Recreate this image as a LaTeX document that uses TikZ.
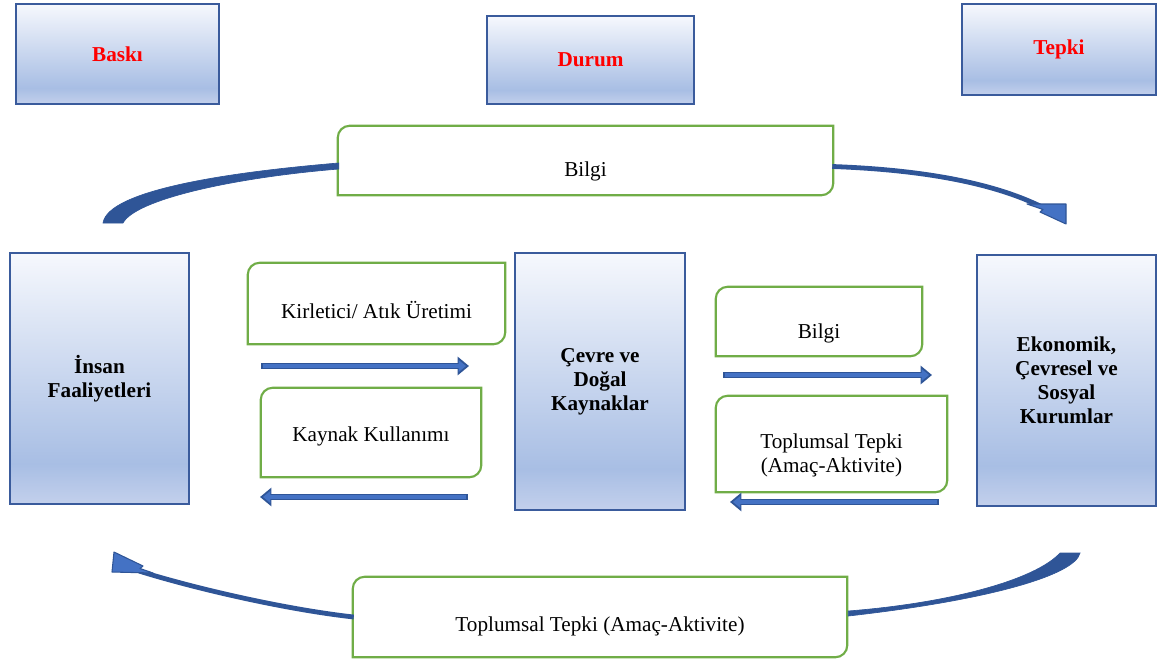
\documentclass[tikz,border=0pt]{standalone}
\usepackage{fontspec}
\setmainfont{Liberation Serif}
\usetikzlibrary{arrows.meta,calc}
\definecolor{bdark}{HTML}{2F5597}
\definecolor{blight}{HTML}{4472C4}
\definecolor{gline}{HTML}{70AD47}
\definecolor{bordb}{HTML}{3A5B9C}
\definecolor{shT}{HTML}{F6F8FD}
\definecolor{shM}{HTML}{A8BEE4}
\definecolor{shB}{HTML}{C3D0EC}
\definecolor{redtxt}{HTML}{FF0000}
\pgfdeclareverticalshading{boxshade}{100bp}{color(0bp)=(shB); color(25bp)=(shB); color(33bp)=(shM); color(75bp)=(shT); color(100bp)=(shT)}
\newcommand\lowr[2]{\raisebox{-#1}[\height][\depth]{#2}}
\newcommand\gframe[1]{\draw[gframe] (#1.south west) [rounded corners=9pt] -- (#1.north west) [sharp corners] -- (#1.north east) [rounded corners=9pt] -- (#1.south east) [sharp corners] -- cycle;}
\begin{document}
\begin{tikzpicture}[x=0.75pt,y=-0.75pt,
  txt/.style={font=\fontsize{15.9}{18}\selectfont},
  bluebox/.style={rectangle, draw=bordb, line width=2pt, shading=boxshade, align=center, inner sep=0pt, font=\fontsize{15.9}{18}\selectfont\bfseries},
  redlab/.style={text=redtxt},
  gbox/.style={rectangle, inner sep=0pt, align=center, txt},
  gframe/.style={draw=gline, line width=1.6pt},
  fatdark/.style={line width=5.2pt, draw=bdark, -{Triangle[length=8.5pt,width=13.5pt]}},
  fatlight/.style={line width=2.4pt, draw=blight, shorten <=1.2pt, -{Triangle[length=5.5pt,width=8.5pt]}},
  tail/.style={fill=bdark, draw=bdark, line width=0.5pt},
  shaft/.style={draw=bdark, line width=3.6pt},
  head/.style={fill=blight, draw=bdark, line width=0.8pt, line join=round}
]
\useasboundingbox (0,0) rectangle (1159,661);

% top blue boxes
\node[bluebox, redlab, minimum width=203*0.75pt, minimum height=100*0.75pt] (baski) at (117.5,54) {Baskı};
\node[bluebox, redlab, minimum width=207*0.75pt, minimum height=88*0.75pt] (durum) at (590.5,60) {Durum};
\node[bluebox, redlab, minimum width=194*0.75pt, minimum height=91*0.75pt] (tepki) at (1059,49.5) {Tepki};

% main blue boxes
\node[bluebox, minimum width=179*0.75pt, minimum height=251*0.75pt] (insan) at (99.5,378.5) {İnsan\\Faaliyetleri};
\node[bluebox, minimum width=170*0.75pt, minimum height=257*0.75pt] (cevre) at (600,381.5) {Çevre ve\\Doğal\\Kaynaklar};
\node[bluebox, minimum width=179*0.75pt, minimum height=251*0.75pt] (ekon) at (1066.5,380.5) {Ekonomik,\\Çevresel ve\\Sosyal\\Kurumlar};

% green boxes
\node[gbox, minimum width=495*0.75pt, minimum height=69*0.75pt] (bilgiTop) at (585.5,160.5) {\lowr{8pt}{Bilgi}};
\node[gbox, minimum width=257*0.75pt, minimum height=81*0.75pt] (kirl) at (376.5,303.5) {\lowr{4.9pt}{Kirletici/ Atık Üretimi}};
\node[gbox, minimum width=220*0.75pt, minimum height=89*0.75pt] (kayn) at (371,432.5) {\lowr{2.6pt}{Kaynak Kullanımı}};
\node[gbox, minimum width=206*0.75pt, minimum height=69*0.75pt] (bilgiR) at (819,321.5) {\lowr{9pt}{Bilgi}};
\node[gbox, minimum width=231*0.75pt, minimum height=96*0.75pt] (topR) at (831.5,444) {\lowr{9pt}{\begin{tabular}{@{}c@{}}Toplumsal Tepki\\(Amaç-Aktivite)\end{tabular}}};
\node[gbox, minimum width=494*0.75pt, minimum height=80*0.75pt] (botT) at (600,617) {\lowr{6.75pt}{Toplumsal Tepki (Amaç-Aktivite)}};
\gframe{bilgiTop}
\gframe{kirl}
\gframe{kayn}
\gframe{bilgiR}
\gframe{topR}
\gframe{botT}

% straight block arrows
\coordinate (a1s) at (261,366); \coordinate (a1e) at (469,366);
\coordinate (a2s) at (468,497); \coordinate (a2e) at (260,497);
\coordinate (a3s) at (723,375); \coordinate (a3e) at (932,375);
\coordinate (a4s) at (939,502); \coordinate (a4e) at (730,502);
\foreach \s/\e in {a1s/a1e,a2s/a2e,a3s/a3e,a4s/a4e}{
  \draw[fatdark] (\s) -- (\e);
  \draw[fatlight] (\s) -- ($(\e)!2.2pt!(\s)$);
}

% curved arrow: top left tail
\coordinate (tlA) at ($(bilgiTop.west)+(1,2.5)$);
\coordinate (tlB) at ($(bilgiTop.west)+(1,8.5)$);
\coordinate (tlEnd1) at (103,223);
\coordinate (tlEnd2) at (123,223);
\draw[tail] (tlA) .. controls (230,172) and (108,190) .. (tlEnd1) -- (tlEnd2) .. controls (135,200) and (230,178) .. (tlB) -- cycle;

% curved arrow: top right
\coordinate (trA) at ($(bilgiTop.east)+(-1,6)$);
\coordinate (trB) at (1046,209);
\draw[shaft] (trA) .. controls (930,170) and (1000,185) .. (trB);
\coordinate (trH1) at (1027,204);
\coordinate (trH2) at (1066,204);
\coordinate (trH3) at (1066,224);
\draw[head] (trH1) -- (trH2) -- (trH3) -- (1040,212) -- (1043,209.5) -- cycle;

% curved arrow: bottom right tail
\coordinate (brA) at ($(botT.east)+(1,-6)$);
\coordinate (brB) at ($(botT.east)+(1,-1)$);
\coordinate (brEnd1) at (1060,553);
\coordinate (brEnd2) at (1080,553);
\draw[tail] (brA) .. controls (950,603) and (1035,580) .. (brEnd1) -- (brEnd2) .. controls (1075,575) and (990,600) .. (brB) -- cycle;

% curved arrow: bottom left
\coordinate (blA) at ($(botT.west)+(1,0)$);
\coordinate (blB) at (139,571);
\draw[shaft] (blA) .. controls (290,610) and (200,590) .. (blB);
\coordinate (blH1) at (114,552);
\coordinate (blH2) at (112,572);
\coordinate (blH3) at (153,573);
\draw[head] (blH1) -- (143,566) -- (140,568.5) -- (blH3) -- (blH2) -- cycle;
\end{tikzpicture}
\end{document}
